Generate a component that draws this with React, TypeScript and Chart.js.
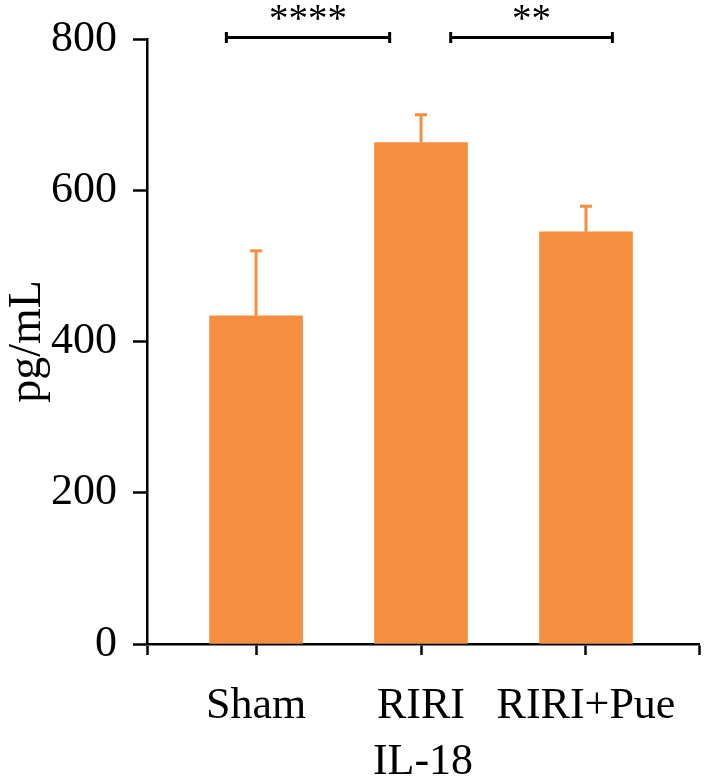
import { useEffect, useRef } from 'react'
import { Chart, registerables } from 'chart.js'

Chart.register(...registerables)

const groups = ['Sham', 'RIRI', 'RIRI+Pue']
const positions = [1, 2, 3]
const means = [434, 663, 545]
const errors = [86, 37, 34]
const bracketStarts = [0.82, 2.18]
const bracketEnds = [1.81, 3.16]
const bracketLabels = ['****', '**']
const bracketLevel = 802

const barColor = '#f58f3f'
const serif = "'Liberation Serif', 'DejaVu Serif', serif"

const annotate = {
  id: 'annotate',
  afterDraw(chart: any) {
    const { ctx, scales: { x, y } } = chart
    ctx.save()

    // error bars (upper only)
    ctx.strokeStyle = barColor
    ctx.lineWidth = 3
    means.forEach((m, i) => {
      const px = x.getPixelForValue(positions[i])
      const top = y.getPixelForValue(m + errors[i])
      ctx.beginPath()
      ctx.moveTo(px, y.getPixelForValue(m))
      ctx.lineTo(px, top)
      ctx.moveTo(px - 6, top)
      ctx.lineTo(px + 6, top)
      ctx.stroke()
    })

    // significance brackets
    const by = y.getPixelForValue(bracketLevel)
    ctx.strokeStyle = '#000'
    ctx.fillStyle = '#000'
    ctx.lineWidth = 3
    ctx.font = `39px ${serif}`
    ctx.textAlign = 'center'
    ctx.textBaseline = 'alphabetic'
    bracketStarts.forEach((s, i) => {
      const x1 = x.getPixelForValue(s)
      const x2 = x.getPixelForValue(bracketEnds[i])
      ctx.beginPath()
      ctx.moveTo(x1, by)
      ctx.lineTo(x2, by)
      ctx.moveTo(x1, by - 5.5)
      ctx.lineTo(x1, by + 5.5)
      ctx.moveTo(x2, by - 5.5)
      ctx.lineTo(x2, by + 5.5)
      ctx.stroke()
      ctx.fillText(bracketLabels[i], (x1 + x2) / 2, by - 6)
    })
    ctx.restore()
  }
}

export default function App() {
  const chartRef = useRef<HTMLCanvasElement>(null)

  useEffect(() => {
    if (!chartRef.current) return

    const config: any = {
      type: 'bar',
      data: {
        datasets: [{
          data: means.map((m, i) => ({ x: positions[i], y: m })),
          backgroundColor: barColor,
          borderWidth: 0,
          barThickness: 93
        }]
      },
      options: {
        responsive: true,
        maintainAspectRatio: false,
        animation: false,
        layout: { padding: { top: 39, right: 7, bottom: 0, left: 0 } },
        plugins: {
          legend: { display: false },
          tooltip: { enabled: false }
        },
        scales: {
          x: {
            type: 'linear',
            min: 0.339,
            max: 3.685,
            offset: false,
            afterBuildTicks: (scale: any) => {
              scale.ticks = [scale.min, ...positions, scale.max].map(v => ({ value: v }))
            },
            afterFit: (scale: any) => { scale.height = 134 },
            grid: {
              offset: false,
              drawOnChartArea: false,
              drawTicks: true,
              tickLength: 11,
              tickColor: '#000',
              tickWidth: 2.5
            },
            border: { display: true, color: '#000', width: 2.5 },
            ticks: {
              autoSkip: false,
              maxRotation: 0,
              padding: 5,
              color: '#000',
              font: { family: serif, size: 44, lineHeight: 2.1 },
              callback: (v: number) => {
                const i = positions.indexOf(v)
                return i >= 0 ? groups[i] : ''
              }
            },
            title: {
              display: true,
              text: 'IL-18',
              color: '#000',
              font: { family: serif, size: 44, lineHeight: 0.73 },
              padding: { top: 0, bottom: 0 }
            }
          },
          y: {
            min: 0,
            max: 800,
            afterFit: (scale: any) => { scale.width = 147 },
            grid: {
              drawOnChartArea: false,
              drawTicks: true,
              tickLength: 14,
              tickColor: '#000',
              tickWidth: 2.5
            },
            border: { display: true, color: '#000', width: 2.5 },
            ticks: {
              stepSize: 200,
              padding: 16,
              color: '#000',
              font: { family: serif, size: 44, lineHeight: 0.9 }
            },
            title: {
              display: true,
              text: 'pg/mL',
              color: '#000',
              font: { family: serif, size: 46 },
              padding: { top: 0, bottom: 0 }
            }
          }
        }
      },
      plugins: [annotate]
    }

    const chart = new Chart(chartRef.current, config)
    return () => chart.destroy()
  }, [])

  return (
    <div style={{ position: 'fixed', left: 0, top: 0, width: 706, height: 778, background: '#fff' }}>
      <canvas ref={chartRef} />
    </div>
  )
}
